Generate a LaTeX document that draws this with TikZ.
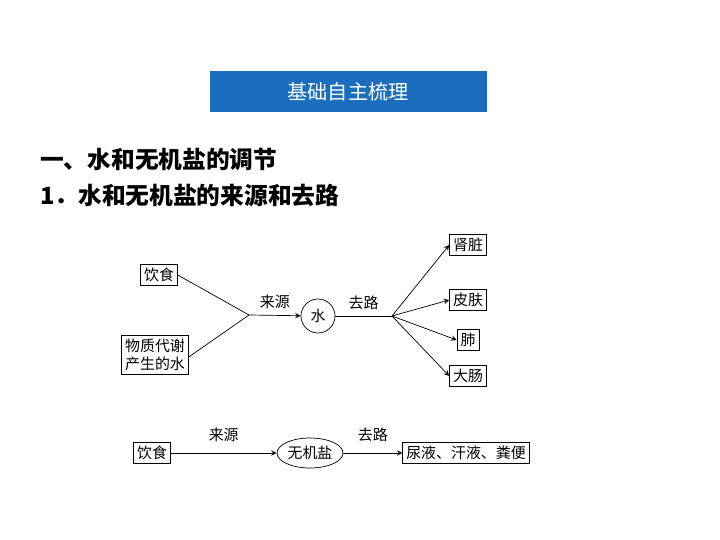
\documentclass[tikz,border=0pt]{standalone}
\usepackage{fontspec}
\setmainfont{Noto Sans CJK SC}
\usetikzlibrary{positioning,shapes.geometric}
\tikzset{>=stealth}
\tikzset{box/.style={draw,thin,inner sep=2pt,font=\fontsize{8.5}{10}\selectfont,align=center},
  lab/.style={font=\fontsize{8.5}{10}\selectfont}}
\begin{document}
\begin{tikzpicture}[x=0.02cm,y=-0.02cm]
\useasboundingbox (0,0) rectangle (720,540);
%%%% title
\node[fill={rgb,255:red,27;green,110;blue,190},minimum width=277*0.02cm,minimum height=41*0.02cm,text=white,font=\fontsize{11.5}{13}\selectfont] (title) at (348,92) {基础自主梳理};
\node[anchor=west,font=\fontsize{13.5}{16}\selectfont\bfseries] (h1) at (34,160) {一、水和无机盐的调节};
\node[anchor=west,font=\fontsize{13.5}{16}\selectfont\bfseries] (h2) at (34,196) {1．水和无机盐的来源和去路};
%%%% water
\node[box] (food) at (159,275) {饮食};
\node[box] (meta) at (155,355) {物质代谢\\产生的水};
\coordinate (j1) at (249,315);
\node[draw,circle,thin,minimum size=34*0.02cm,inner sep=0pt,lab] (water) at (318,316) {水};
\coordinate (j2) at (392,316);
\node[box] (kid) at (468,245) {肾脏};
\node[box] (skin) at (468,300) {皮肤};
\node[box] (lung) at (468,340) {肺};
\node[box] (gut) at (468,376) {大肠};
\draw (food.east) -- (j1);
\draw (meta.east) ++(0,2) -- (j1);
\draw[->] (j1) -- node[lab,above] {来源} (water);
\draw (water) -- node[lab,above] {去路} (j2);
\draw[->] (j2) -- (kid.west);
\draw[->] (j2) -- (skin.west);
\draw[->] (j2) -- (lung.west);
\draw[->] (j2) -- (gut.west);
%%%% salt
\node[box] (food2) at (152,453) {饮食};
\node[draw,ellipse,thin,minimum width=66*0.02cm,minimum height=30*0.02cm,inner sep=0pt,lab] (salt) at (310,453) {无机盐};
\node[box] (out) at (466,453) {尿液、汗液、粪便};
\draw[->] (food2) -- node[lab,above=3pt] {来源} (salt);
\draw[->] (salt) -- node[lab,above=3pt] {去路} (out);
\end{tikzpicture}
\end{document}
